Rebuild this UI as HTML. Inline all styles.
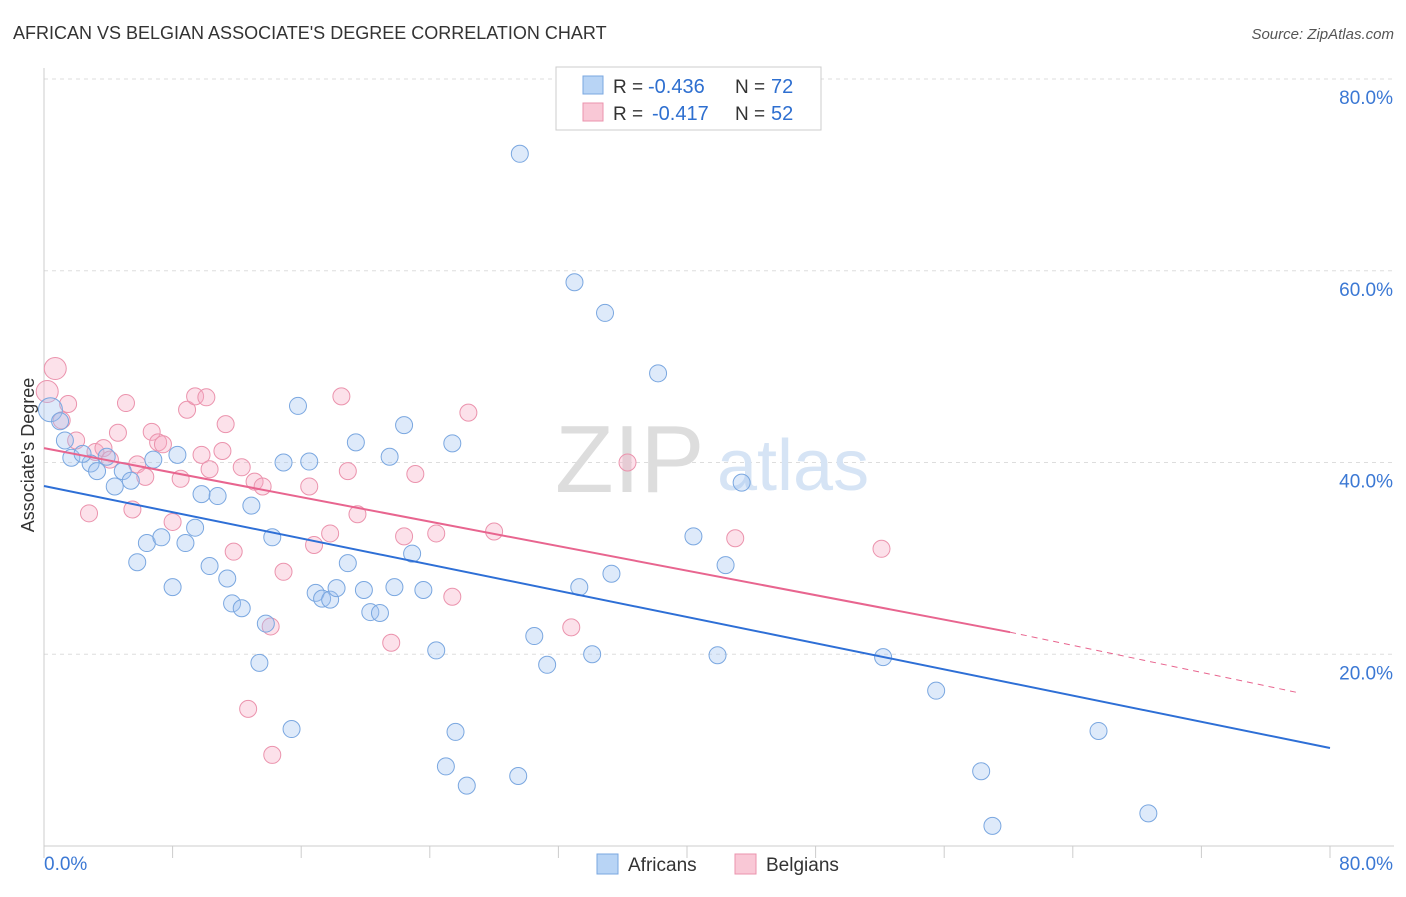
<!DOCTYPE html>
<html><head><meta charset="utf-8"><style>
body{margin:0;background:#fff;font-family:"Liberation Sans",sans-serif;}
svg text{font-family:"Liberation Sans",sans-serif;}
</style></head><body>
<svg width="1406" height="892" viewBox="0 0 1406 892" xmlns="http://www.w3.org/2000/svg">
<text x="13" y="39" font-size="18" fill="#333">AFRICAN VS BELGIAN ASSOCIATE'S DEGREE CORRELATION CHART</text>
<text x="1394" y="39" font-size="15" fill="#555" font-style="italic" text-anchor="end">Source: ZipAtlas.com</text>
<g id="grid"></g>
<g id="axes"></g>
<text x="555" y="492" font-size="96" fill="#ddd" font-family="Liberation Serif">ZIP</text>
<text x="717" y="490" font-size="72" fill="#d6e4f5">atlas</text>
<g id="pts"></g>
<g id="lines"></g>
<text transform="translate(34,455) rotate(-90)" font-size="18" fill="#333" text-anchor="middle">Associate's Degree</text>
<g>
<rect x="556" y="67" width="265" height="63" fill="#fff" stroke="#ccc"/>
<rect x="583" y="76" width="20" height="18" fill="#b8d4f5" stroke="#7aa7e0"/>
<rect x="583" y="103" width="20" height="18" fill="#f9c8d6" stroke="#eb93ad"/>
<text x="613" y="93" font-size="19" fill="#333">R =</text>
<text x="648" y="93" font-size="20" fill="#2e6fd0">-0.436</text>
<text x="735" y="93" font-size="19" fill="#333">N =</text>
<text x="771" y="93" font-size="20" fill="#2e6fd0">72</text>
<text x="613" y="120" font-size="19" fill="#333">R =</text>
<text x="652" y="120" font-size="20" fill="#2e6fd0">-0.417</text>
<text x="735" y="120" font-size="19" fill="#333">N =</text>
<text x="771" y="120" font-size="20" fill="#2e6fd0">52</text>
</g>
<g>
<rect x="597" y="854" width="21" height="20" fill="#b8d4f5" stroke="#7aa7e0"/>
<text x="628" y="871" font-size="19" fill="#333">Africans</text>
<rect x="735" y="854" width="21" height="20" fill="#f9c8d6" stroke="#eb93ad"/>
<text x="766" y="871" font-size="19" fill="#333">Belgians</text>
</g>
</svg>
<script>
const yTicks=[20,40,60,80];
const yTickLabels=["20.0%","40.0%","60.0%","80.0%"];
const africanX=[29.6,33,34.9,38.2,0.4,1,1.3,1.7,2.9,2.4,3.9,3.3,4.9,4.4,5.4,6.8,8.3,5.8,6.4,7.3,8,8.8,9.4,9.8,10.8,10.3,11.4,11.7,12.3,12.9,13.4,13.8,14.2,14.9,15.4,15.8,16.5,16.9,17.3,17.8,18.2,18.9,19.4,19.9,20.3,20.9,21.5,21.8,22.4,22.9,23.6,24.4,25,25.4,25.6,26.3,29.5,30.5,31.3,33.3,34.1,35.3,40.4,41.9,42.4,43.4,52.2,55.5,58.3,59,65.6,68.7];
const africanY=[72.2,58.8,55.6,49.3,45.5,44.3,42.3,40.5,39.9,40.9,40.6,39.1,39.1,37.5,38.1,40.3,40.8,29.6,31.6,32.2,27,31.6,33.2,36.7,36.5,29.2,27.9,25.3,24.8,35.5,19.1,23.2,32.2,40,12.2,45.9,40.1,26.4,25.8,25.7,26.9,29.5,42.1,26.7,24.4,24.3,40.6,27,43.9,30.5,26.7,20.4,8.3,42,11.9,6.3,7.3,21.9,18.9,27,20,28.4,32.3,19.9,29.3,37.9,19.7,16.2,7.8,2.1,12,3.4];
const belgianX=[0.7,0.2,1.5,1.1,2,3.2,3.7,4.1,2.8,4.6,5.1,5.5,5.8,6.3,6.7,7.1,7.4,8,8.5,8.9,9.4,9.8,10.1,10.3,11.1,11.3,11.8,12.3,12.7,13.1,13.6,14.1,14.2,14.9,16.5,16.8,17.8,18.5,18.9,19.5,21.6,22.4,23.1,24.4,25.4,26.4,28,32.8,36.3,43,52.1];
const belgianY=[49.8,47.4,46.1,44.4,42.3,41.1,41.5,40.3,34.7,43.1,46.2,35.1,39.8,38.5,43.2,42.1,41.9,33.8,38.3,45.5,46.9,40.8,46.8,39.3,41.2,44,30.7,39.5,14.3,38,37.5,22.9,9.5,28.6,37.5,31.4,32.6,46.9,39.1,34.6,21.2,32.3,38.8,32.6,26,45.2,32.8,22.8,40,32.1,31];
const blueTrend=[[0,37.55],[80,10.22]];
const pinkTrend=[[0,41.5],[60.1,22.3]];
const pinkDash=[[60.1,22.3],[78,16.0]];
const NS="http://www.w3.org/2000/svg";
const X=v=>44+v*16.075, Y=v=>846-v*9.5875;
function mk(t,a,p){const e=document.createElementNS(NS,t);for(const k in a)e.setAttribute(k,a[k]);p.appendChild(e);return e;}
const grid=document.getElementById('grid'),axes=document.getElementById('axes');
yTicks.forEach((t,i)=>{
 const l=mk('line',{x1:44,x2:1394,y1:Y(t),y2:Y(t),stroke:'#ddd','stroke-dasharray':'4,4'},grid);
 
 
 const tx=mk('text',{x:1393,y:Y(t)+25,'font-size':19,fill:'#3b78d4','text-anchor':'end'},axes);
 tx.textContent=yTickLabels[i];
 
 
});
mk('line',{x1:44,x2:44,y1:68,y2:846,stroke:'#ccc'},axes);
mk('line',{x1:44,x2:1394,y1:846,y2:846,stroke:'#ccc'},axes);
for(let i=0;i<=10;i++){const t=mk('line',{x1:X(i*8),x2:X(i*8),y1:846,y2:858,stroke:'#ccc'},axes);
 
 }
let a=mk('text',{x:44,y:870,'font-size':19,fill:'#3b78d4'},axes);a.textContent='0.0%';


a=mk('text',{x:1393,y:870,'font-size':19,fill:'#3b78d4','text-anchor':'end'},axes);a.textContent='80.0%';


const pts=document.getElementById('pts');
belgianX.forEach((x,i)=>{const c=mk('circle',{cx:X(x),cy:Y(belgianY[i]),r:(i<2?11:8.5),fill:'rgba(245,170,195,0.35)',stroke:'#eb93ad','stroke-width':1},pts);
 
 });
africanX.forEach((x,i)=>{const c=mk('circle',{cx:X(x),cy:Y(africanY[i]),r:(i==4?12:8.5),fill:'rgba(160,195,240,0.35)',stroke:'#7aa7e0','stroke-width':1},pts);
 
 });
const lines=document.getElementById('lines');
let L=mk('line',{x1:X(blueTrend[0][0]),y1:Y(blueTrend[0][1]),x2:X(blueTrend[1][0]),y2:Y(blueTrend[1][1]),stroke:'#2e6fd6','stroke-width':2},lines);


L=mk('line',{x1:X(pinkTrend[0][0]),y1:Y(pinkTrend[0][1]),x2:X(pinkTrend[1][0]),y2:Y(pinkTrend[1][1]),stroke:'#e8658f','stroke-width':2},lines);


L=mk('line',{x1:X(pinkDash[0][0]),y1:Y(pinkDash[0][1]),x2:X(pinkDash[1][0]),y2:Y(pinkDash[1][1]),stroke:'#e8658f','stroke-width':1,'stroke-dasharray':'6,5'},lines);


</script>
</body></html>
